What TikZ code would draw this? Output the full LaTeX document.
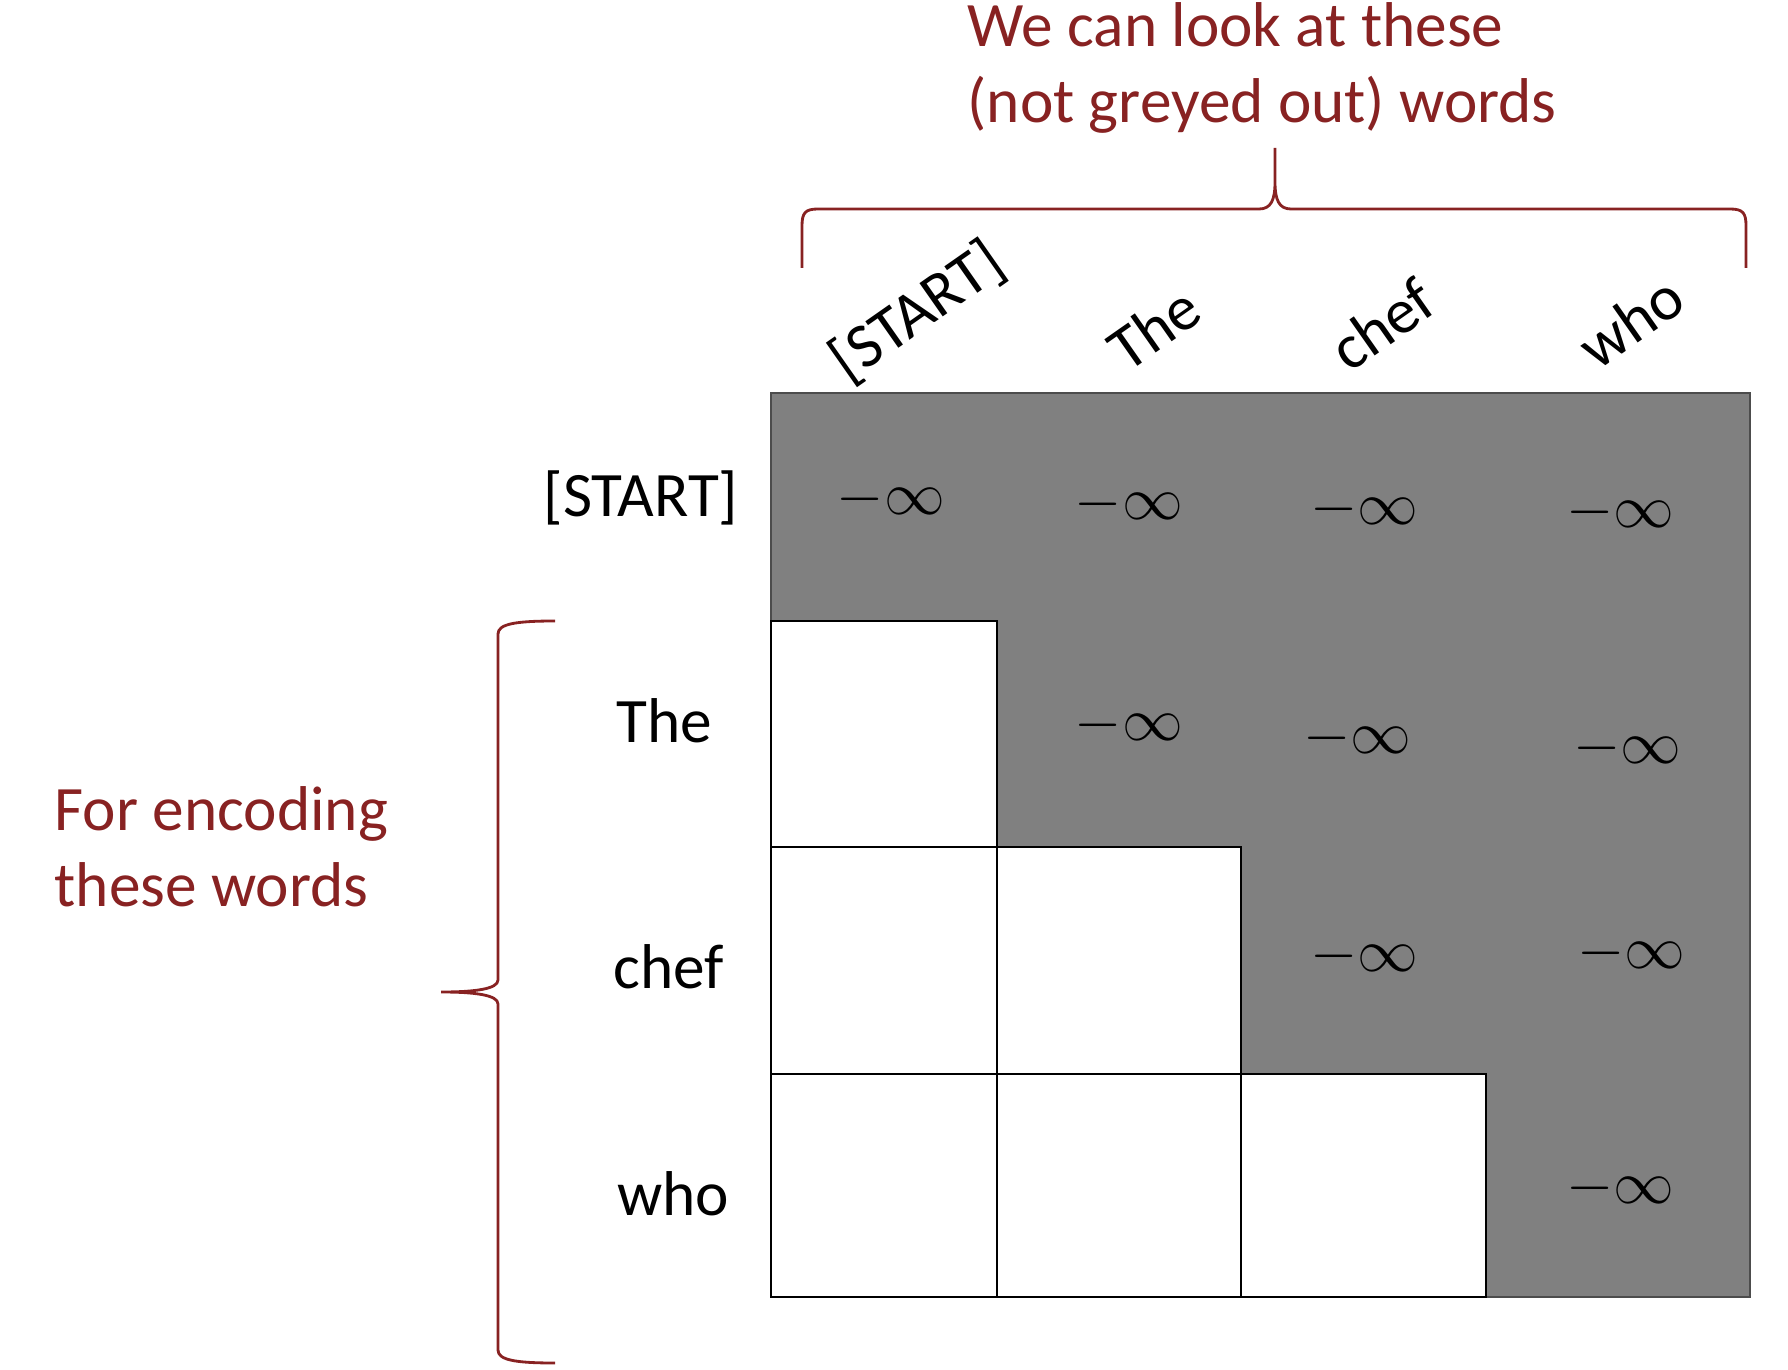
\documentclass[tikz,border=0pt]{standalone}
\usepackage{fontspec}
\setmainfont{Carlito}
\usepackage{amsmath}
\usepackage{amssymb}
\definecolor{braceRed}{RGB}{136,34,34}
\definecolor{maskGray}{RGB}{128,128,128}

\begin{document}
\begin{tikzpicture}[x=0.01cm,y=-0.01cm]
\tikzstyle{every node}+=[inner sep=0pt]
\tikzstyle{word}=[font=\fontsize{18}{22}\selectfont]
\tikzstyle{colword}=[word,rotate=35]
\tikzstyle{note}=[font=\fontsize{18}{21.5}\selectfont,text=braceRed,align=left]
\tikzstyle{minf}=[font=\fontsize{16}{18}\selectfont]
\tikzstyle{open}=[draw=black,line width=0.7pt,fill=white]
\tikzstyle{brace}=[draw=braceRed,line width=0.8pt]
\useasboundingbox (0,0) rectangle (1788,1370);
\fill [maskGray] (771,393) -- (1750,393) -- (1750,1297) -- (1486,1297) -- (1486,1074) -- (1241,1074) -- (1241,847) -- (997,847) -- (997,621) -- (771,621) -- cycle;
\draw [black!70,line width=0.4pt] (771,621) -- (771,393) -- (1750,393) -- (1750,1297) -- (1486,1297);
\foreach \xa/\ya/\xb/\yb in {771/621/997/847, 771/847/997/1074, 997/847/1241/1074, 771/1074/997/1297, 997/1074/1241/1297, 1241/1074/1486/1297}
  \draw [open] (\xa,\ya) rectangle (\xb,\yb);
\node [colword] (cStart) at (918,312) {[START]};
\node [colword] (cThe) at (1154,328) {The};
\node [colword] (cChef) at (1382,324) {chef};
\node [colword] (cWho) at (1631,322) {who};
\node [word] (rStart) at (641,498) {[START]};
\node [word] (rThe) at (664,721) {The};
\node [word] (rChef) at (669,967) {chef};
\node [word] (rWho) at (673,1194) {who};
\node [minf] (m11) at (891,499) {$-\infty$};
\node [minf] (m12) at (1129,504) {$-\infty$};
\node [minf] (m13) at (1364,509) {$-\infty$};
\node [minf] (m14) at (1620,512) {$-\infty$};
\node [minf] (m22) at (1129,725) {$-\infty$};
\node [minf] (m23) at (1357,738) {$-\infty$};
\node [minf] (m24) at (1627,748) {$-\infty$};
\node [minf] (m33) at (1364,956) {$-\infty$};
\node [minf] (m34) at (1631,953) {$-\infty$};
\node [minf] (m44) at (1620,1188) {$-\infty$};
\node [note,anchor=north west] (lookNote) at (967,2) {We can look at these\\(not greyed out) words};
\node [note,anchor=north west] (encNote) at (54,786) {For encoding\\these words};
\coordinate (topTip) at (1275,148);
\coordinate (leftTip) at (441,992);
\draw [brace] (802,268) -- (802,226) .. controls (802,213) and (805,209) .. (818,209) -- (1259,209) .. controls (1271,209) and (1275,200) .. (1275,182) -- (topTip) -- (1275,182) .. controls (1275,200) and (1279,209) .. (1291,209) -- (1730,209) .. controls (1743,209) and (1746,213) .. (1746,226) -- (1746,268);
\draw [brace] (555,621) .. controls (515,621) and (498,624) .. (498,634) -- (498,980) .. controls (498,989) and (475,992) .. (leftTip) .. controls (475,992) and (498,995) .. (498,1004) -- (498,1350) .. controls (498,1360) and (515,1363) .. (555,1363);
\end{tikzpicture}
\end{document}
